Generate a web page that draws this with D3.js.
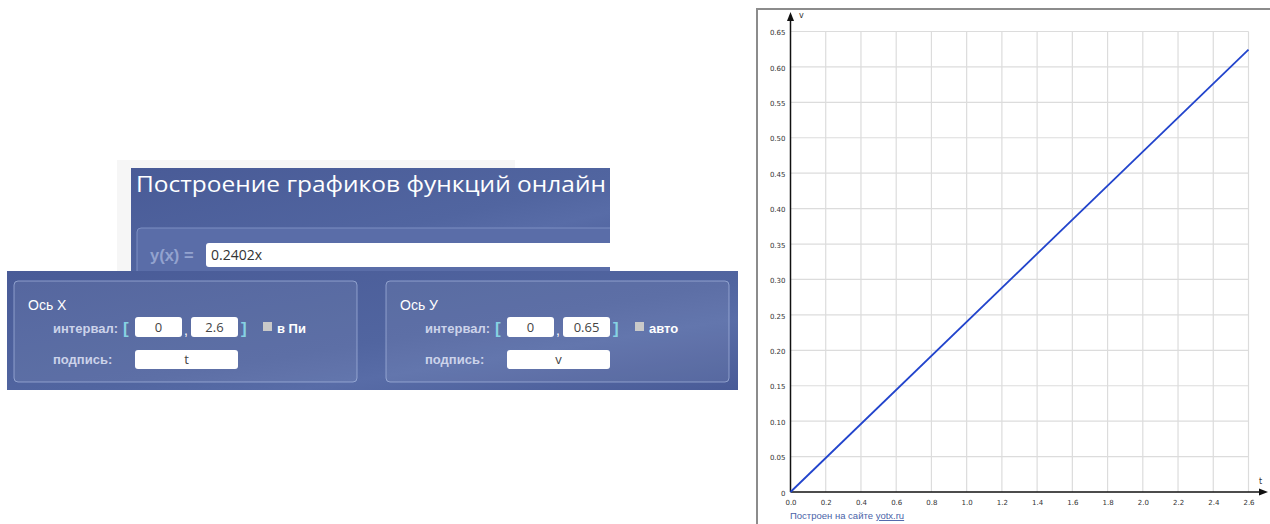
<!DOCTYPE html>
<html>
<head>
<meta charset="utf-8">
<script src="https://cdn.jsdelivr.net/npm/d3@7"></script>
<style>
body { margin: 0; background: #fff; overflow: hidden; }
</style>
</head>
<body>
<svg id="page" width="1270" height="524"></svg>
<script>
// chart values
const xTicks = [0.0, 0.2, 0.4, 0.6, 0.8, 1.0, 1.2, 1.4, 1.6, 1.8, 2.0, 2.2, 2.4, 2.6];
const yTicks = [0, 0.05, 0.10, 0.15, 0.20, 0.25, 0.30, 0.35, 0.40, 0.45, 0.50, 0.55, 0.60, 0.65];
const lineT = [0, 2.6];
const lineV = [0, 0.6245];
const xName = "t";
const yName = "v";

// form texts
const title = "Построение графиков функций онлайн";
const formula = "0.2402x";
const xInterval = ["0", "2.6"];
const yInterval = ["0", "0.65"];

const svg = d3.select("#page");

// ---------- left part: the form ----------
const defs = svg.append("defs");
const grad = defs.append("linearGradient").attr("id", "panelGrad")
    .attr("x1", "0%").attr("y1", "0%").attr("x2", "100%").attr("y2", "100%");
grad.append("stop").attr("offset", "0%").attr("stop-color", "#495b97");
grad.append("stop").attr("offset", "55%").attr("stop-color", "#5165a0");
grad.append("stop").attr("offset", "70%").attr("stop-color", "#586ca7");
grad.append("stop").attr("offset", "100%").attr("stop-color", "#495b97");

defs.append("clipPath").attr("id", "titleClip")
    .append("rect").attr("x", 131).attr("y", 168).attr("width", 479).attr("height", 110);

svg.append("rect").attr("x", 117).attr("y", 160).attr("width", 398).attr("height", 112).attr("fill", "#f6f6f6");

const head = svg.append("g").attr("clip-path", "url(#titleClip)");
head.append("rect").attr("x", 131).attr("y", 168).attr("width", 479).attr("height", 110).attr("fill", "url(#panelGrad)");
head.append("text").attr("x", 136).attr("y", 192)
    .attr("font-family", "Open Sans").attr("font-size", 22).attr("fill", "#fff")
    .attr("textLength", 470).attr("lengthAdjust", "spacingAndGlyphs")
    .text(title);
head.append("rect").attr("x", 137).attr("y", 228).attr("width", 500).attr("height", 60).attr("rx", 4)
    .attr("fill", "#5a6da8").attr("stroke", "#7d8fc2");
head.append("text").attr("x", 150).attr("y", 261)
    .attr("font-family", "Liberation Sans").attr("font-weight", "bold").attr("font-size", 16.5).attr("fill", "#93a3cf")
    .text("y(x) =");
head.append("rect").attr("x", 206).attr("y", 243).attr("width", 420).attr("height", 24).attr("rx", 3).attr("fill", "#fff");
head.append("text").attr("x", 211).attr("y", 260)
    .attr("font-family", "Open Sans").attr("font-size", 14).attr("fill", "#333")
    .text(formula);

svg.append("rect").attr("x", 7).attr("y", 271).attr("width", 731).attr("height", 119).attr("fill", "url(#panelGrad)");

function axisBox(dx, name, interval, option, label) {
    const g = svg.append("g").attr("transform", "translate(" + dx + ",0)");
    g.append("rect").attr("x", 14).attr("y", 281).attr("width", 343).attr("height", 101).attr("rx", 4)
        .attr("fill", "rgba(255,255,255,0.07)").attr("stroke", "rgba(190,205,240,0.55)");
    g.append("text").attr("x", 28).attr("y", 310)
        .attr("font-family", "Liberation Sans").attr("font-size", 14).attr("fill", "#fff").text(name);
    g.append("text").attr("x", 53).attr("y", 333)
        .attr("font-family", "Liberation Sans").attr("font-weight", "bold").attr("font-size", 13).attr("fill", "#ccd3ea")
        .text("интервал:");
    g.append("text").attr("x", 123).attr("y", 334)
        .attr("font-family", "Liberation Sans").attr("font-weight", "bold").attr("font-size", 17).attr("fill", "#86d2e2").text("[");
    g.append("text").attr("x", 241).attr("y", 334)
        .attr("font-family", "Liberation Sans").attr("font-weight", "bold").attr("font-size", 17).attr("fill", "#86d2e2").text("]");
    g.append("text").attr("x", 184).attr("y", 335)
        .attr("font-family", "Liberation Sans").attr("font-size", 14).attr("fill", "#fff").text(",");
    [[135, interval[0]], [191, interval[1]]].forEach(function(d) {
        g.append("rect").attr("x", d[0]).attr("y", 317).attr("width", 47).attr("height", 20).attr("rx", 3).attr("fill", "#fff");
        g.append("text").attr("x", d[0] + 23.5).attr("y", 332).attr("text-anchor", "middle")
            .attr("font-family", "Open Sans").attr("font-size", 13).attr("fill", "#444").text(d[1]);
    });
    g.append("rect").attr("x", 263).attr("y", 322).attr("width", 9).attr("height", 9).attr("fill", "#c9c9c9");
    g.append("text").attr("x", 277).attr("y", 333)
        .attr("font-family", "Liberation Sans").attr("font-weight", "bold").attr("font-size", 13).attr("fill", "#fff")
        .text(option);
    g.append("text").attr("x", 53).attr("y", 364)
        .attr("font-family", "Liberation Sans").attr("font-weight", "bold").attr("font-size", 13).attr("fill", "#ccd3ea")
        .text("подпись:");
    g.append("rect").attr("x", 135).attr("y", 350).attr("width", 103).attr("height", 19).attr("rx", 3).attr("fill", "#fff");
    g.append("text").attr("x", 186.5).attr("y", 364).attr("text-anchor", "middle")
        .attr("font-family", "Open Sans").attr("font-size", 13).attr("fill", "#444").text(label);
}
axisBox(0, "Ось X", xInterval, "в Пи", xName);
axisBox(372, "Ось У", yInterval, "авто", yName);

// ---------- right part: the chart ----------
svg.append("rect").attr("x", 757).attr("y", 9).attr("width", 520).attr("height", 530)
    .attr("fill", "#fff").attr("stroke", "#8c8c8c").attr("stroke-width", 2);

const x = d3.scaleLinear().domain([0, 2.6]).range([790.5, 1248.5]);
const y = d3.scaleLinear().domain([0, 0.65]).range([492, 31.5]);

const grid = svg.append("g").attr("stroke", "#dcdcdc").attr("stroke-width", 1.2);
grid.selectAll(".gv").data(xTicks.slice(1)).join("line")
    .attr("x1", d => x(d)).attr("x2", d => x(d))
    .attr("y1", y(0)).attr("y2", y(0.65));
grid.selectAll(".gh").data(yTicks.slice(1)).join("line")
    .attr("x1", x(0)).attr("x2", x(2.6))
    .attr("y1", d => y(d)).attr("y2", d => y(d));

const xAxis = d3.axisBottom(x).tickValues(xTicks).tickFormat(d3.format(".1f")).tickSize(0).tickPadding(8);
const yAxis = d3.axisLeft(y).tickValues(yTicks).tickFormat(d => d === 0 ? "0" : d3.format(".2f")(d)).tickSize(0).tickPadding(5);

const gx = svg.append("g").attr("transform", "translate(0," + y(0) + ")").call(xAxis);
const gy = svg.append("g").attr("transform", "translate(" + x(0) + ",0)").call(yAxis);
[gx, gy].forEach(function(g) {
    g.select(".domain").remove();
    g.selectAll("text").attr("font-family", "DejaVu Sans").attr("font-size", 7).attr("fill", "#333");
});
gy.selectAll("text").attr("dy", "0.45em");

// axis lines with arrows
svg.append("line").attr("x1", x(0)).attr("x2", 1262).attr("y1", y(0)).attr("y2", y(0))
    .attr("stroke", "#111").attr("stroke-width", 1.5);
svg.append("path").attr("d", "M1268," + y(0) + "L1259," + (y(0) - 3.5) + "L1259," + (y(0) + 3.5) + "Z").attr("fill", "#111");
svg.append("line").attr("x1", x(0)).attr("x2", x(0)).attr("y1", y(0)).attr("y2", 19)
    .attr("stroke", "#111").attr("stroke-width", 1.5);
svg.append("path").attr("d", "M" + x(0) + ",12L" + (x(0) - 3.5) + ",21L" + (x(0) + 3.5) + ",21Z").attr("fill", "#111");

svg.append("text").attr("x", 1259).attr("y", 484)
    .attr("font-family", "DejaVu Sans").attr("font-size", 8).attr("fill", "#333").text(xName);
svg.append("text").attr("x", 799).attr("y", 18)
    .attr("font-family", "DejaVu Sans").attr("font-size", 8).attr("fill", "#333").text(yName);

// the function line
const pts = lineT.map((t, i) => [t, lineV[i]]);
svg.append("path").datum(pts)
    .attr("d", d3.line().x(d => x(d[0])).y(d => y(d[1])))
    .attr("fill", "none").attr("stroke", "#2244cc").attr("stroke-width", 1.8);

// footer
const foot = svg.append("text").attr("x", 790).attr("y", 519)
    .attr("font-family", "Liberation Sans").attr("font-size", 9.5).attr("fill", "#4a63a8");
foot.append("tspan").text("Построен на сайте ");
foot.append("tspan").attr("text-decoration", "underline").text("yotx.ru");
</script>
</body>
</html>
